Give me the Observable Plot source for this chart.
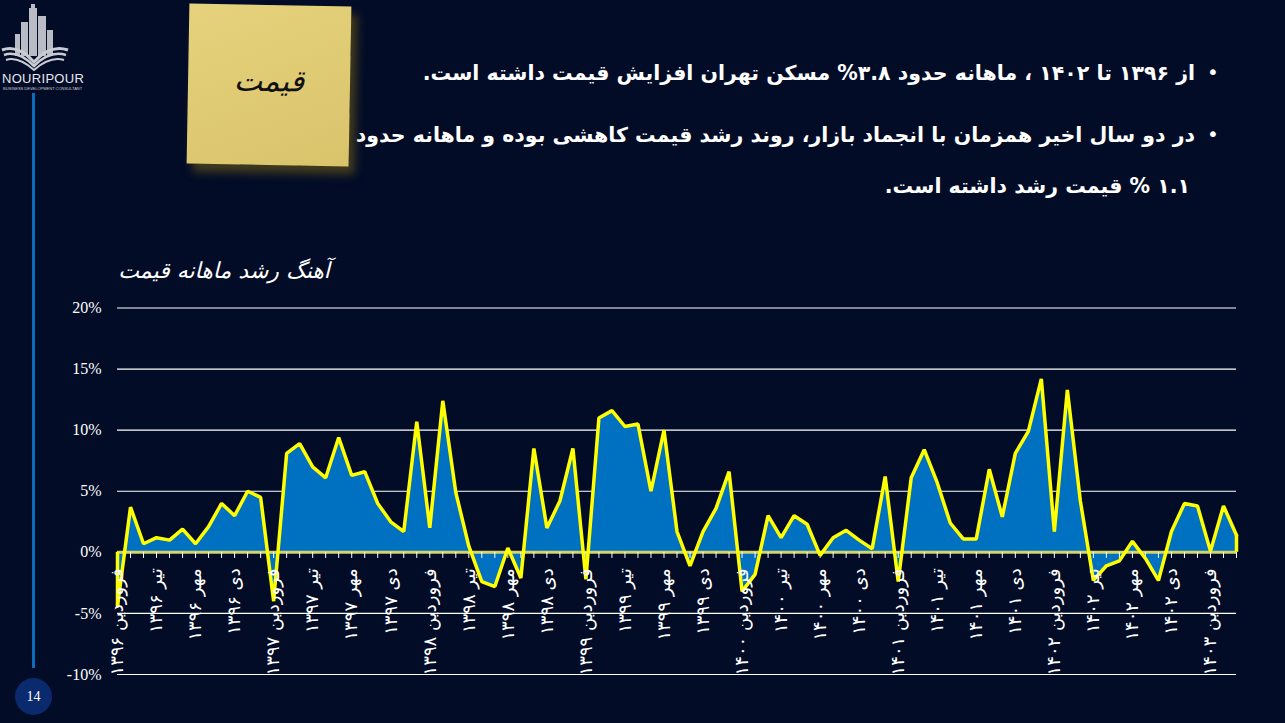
<!DOCTYPE html>
<html lang="fa">
<head>
<meta charset="utf-8">
<script src="https://cdn.jsdelivr.net/npm/d3@7"></script>
<script src="https://cdn.jsdelivr.net/npm/@observablehq/plot@0.6"></script>
<style>
  html, body { margin:0; padding:0; }
  body { width:1285px; height:723px; background:#020c27; position:relative; overflow:hidden; font-family:"DejaVu Sans", sans-serif; }
  .abs { position:absolute; }
  .bul { position:absolute; color:#fff; font-weight:bold; font-size:20.5px; direction:rtl; text-align:right; white-space:nowrap; }
  .dot { position:absolute; color:#fff; font-size:20px; }
  #note { left:188px; top:5px; width:162px; height:160px; background:linear-gradient(160deg,#e6d27c,#d9c46c); transform:rotate(1deg); box-shadow:6px 8px 10px rgba(120,100,20,0.55); }
  #note span { position:absolute; left:0; right:0; top:58px; text-align:center; font-size:30px; color:#111; font-style:italic; font-family:"DejaVu Sans"; }
  #chart { position:absolute; left:0; top:290px; }
  .logo1 { left:2px; top:71px; font-family:"Liberation Sans"; font-size:13px; color:#e6e8ee; letter-spacing:0.3px; }
  .logo2 { left:3px; top:86px; font-family:"Liberation Sans"; font-size:4px; color:#c9ccd2; white-space:nowrap; }
</style>
</head>
<body>
<svg class="abs" style="left:0;top:0" width="80" height="72" viewBox="0 0 80 72">
  <g fill="#b9bcc4">
    <rect x="29" y="8" width="8" height="48"/>
    <rect x="31" y="4" width="4" height="6"/>
    <rect x="21" y="22" width="7" height="34"/>
    <rect x="38" y="16" width="8" height="40"/>
    <rect x="47" y="30" width="6" height="26"/>
    <rect x="15" y="34" width="5" height="22"/>
  </g>
  <path d="M2 50 Q18 44 34 62 Q50 44 68 50" fill="none" stroke="#c9ccd2" stroke-width="3"/>
  <path d="M4 55 Q18 50 34 66 Q50 50 66 55" fill="none" stroke="#c9ccd2" stroke-width="2.5"/>
  <path d="M6 60 Q18 56 34 70 Q50 56 64 60" fill="none" stroke="#c9ccd2" stroke-width="2"/>
</svg>
<div class="abs logo1">NOURIPOUR</div>
<div class="abs logo2">BUSINESS DEVELOPMENT CONSULTANT</div>
<div class="abs" style="left:32px;top:93px;width:3px;height:575px;background:#0b6bbd"></div>
<div class="abs" style="left:15px;top:678px;width:37px;height:37px;border-radius:50%;background:#0a2a6e;color:#fff;font-family:'Liberation Serif';font-size:14px;line-height:37px;text-align:center">14</div>

<div class="dot" style="left:1207px;top:60px">•</div>
<div class="bul" style="right:90px;top:61px">از ۱۳۹۶ تا ۱۴۰۲ ، ماهانه حدود ۳.۸% مسکن تهران افزایش قیمت داشته است.</div>
<div class="dot" style="left:1207px;top:122px">•</div>
<div class="bul" style="right:90px;top:123px">در دو سال اخیر همزمان با انجماد بازار، روند رشد قیمت کاهشی بوده و ماهانه حدود</div>
<div class="bul" style="right:95px;top:174px">۱.۱ % قیمت رشد داشته است.</div>

<div id="note" class="abs"><span>قیمت</span></div>

<div class="abs" style="left:118px;top:258px;width:212px;text-align:right;direction:rtl;color:#fff;font-size:22px;font-style:italic;white-space:nowrap">آهنگ رشد ماهانه قیمت</div>

<div id="chart"></div>
<script>
// Monthly house price growth (%), Farvardin 1396 .. Khordad 1403
const growth = [
  -4.4, 3.7, 0.7, 1.2, 1.0, 1.9, 0.7, 2.1, 4.0, 3.0, 5.0, 4.5,
  -4.0, 8.1, 8.9, 7.0, 6.1, 9.4, 6.3, 6.6, 4.0, 2.5, 1.7, 10.7,
  2.0, 12.4, 4.9, 0.5, -2.4, -2.8, 0.35, -2.1, 8.5, 2.0, 4.2, 8.5,
  -2.2, 11.0, 11.6, 10.3, 10.5, 5.0, 10.0, 1.7, -1.1, 1.7, 3.6, 6.6,
  -3.2, -1.8, 3.0, 1.2, 3.0, 2.3, -0.25, 1.2, 1.8, 1.0, 0.3, 6.2,
  -2.4, 6.1, 8.4, 5.7, 2.4, 1.1, 1.1, 6.8, 2.9, 8.1, 9.9, 14.2,
  1.7, 13.3, 4.2, -2.3, -1.1, -0.7, 0.9, -0.5, -2.3, 1.7, 4.0, 3.8,
  0.1, 3.8, 1.4
];
// x tick labels, one every three months
const tickLabels = [
  "فروردین ۱۳۹۶","تیر ۱۳۹۶","مهر ۱۳۹۶","دی ۱۳۹۶",
  "فروردین ۱۳۹۷","تیر ۱۳۹۷","مهر ۱۳۹۷","دی ۱۳۹۷",
  "فروردین ۱۳۹۸","تیر ۱۳۹۸","مهر ۱۳۹۸","دی ۱۳۹۸",
  "فروردین ۱۳۹۹","تیر ۱۳۹۹","مهر ۱۳۹۹","دی ۱۳۹۹",
  "فروردین ۱۴۰۰","تیر ۱۴۰۰","مهر ۱۴۰۰","دی ۱۴۰۰",
  "فروردین ۱۴۰۱","تیر ۱۴۰۱","مهر ۱۴۰۱","دی ۱۴۰۱",
  "فروردین ۱۴۰۲","تیر ۱۴۰۲","مهر ۱۴۰۲","دی ۱۴۰۲",
  "فروردین ۱۴۰۳"
];
const yTicks = [-10, -5, 0, 5, 10, 15, 20];
const gridTicks = [-10, -5, 5, 10, 15, 20];

const data = growth.map((v, i) => ({i, v}));
const labels = tickLabels.map((t, k) => ({i: k * 3, t}));
const last = data.length - 1;

const chart = Plot.plot({
  width: 1285, height: 433,
  marginLeft: 117, marginRight: 49, marginTop: 17.5, marginBottom: 49,
  x: {domain: [0, last], axis: null},
  y: {domain: [-10, 20], axis: null},
  style: {background: "transparent", color: "white", overflow: "visible"},
  marks: [
    Plot.ruleY(gridTicks, {stroke: "#ffffff", strokeWidth: 1.2}),
    Plot.axisY(yTicks, {tickFormat: d => `${d}%`, tickSize: 0, tickPadding: 16, fontSize: 16, fontFamily: "Liberation Serif", fill: "white", label: null}),
    Plot.areaY(data, {x: "i", y: "v", fill: "#0070c0"}),
    Plot.ruleY([0], {stroke: "#d4d36c", strokeWidth: 3}),
    Plot.ruleX(data, {x: "i", y1: 0, y2: -0.5, stroke: "white", strokeWidth: 1}),
    Plot.ruleX([data[0], data[last]], {x: "i", y1: 0, y2: "v", stroke: "#ffff00", strokeWidth: 3.5}),
    Plot.lineY(data, {x: "i", y: "v", stroke: "#ffff00", strokeWidth: 3.5, strokeLinejoin: "miter"}),
    Plot.text(labels, {x: "i", y: 0, text: "t", rotate: -90, textAnchor: "end", dy: 16, fill: "white", fontSize: 18, fontFamily: "DejaVu Sans"})
  ]
});
document.getElementById("chart").appendChild(chart);
</script>
</body>
</html>
